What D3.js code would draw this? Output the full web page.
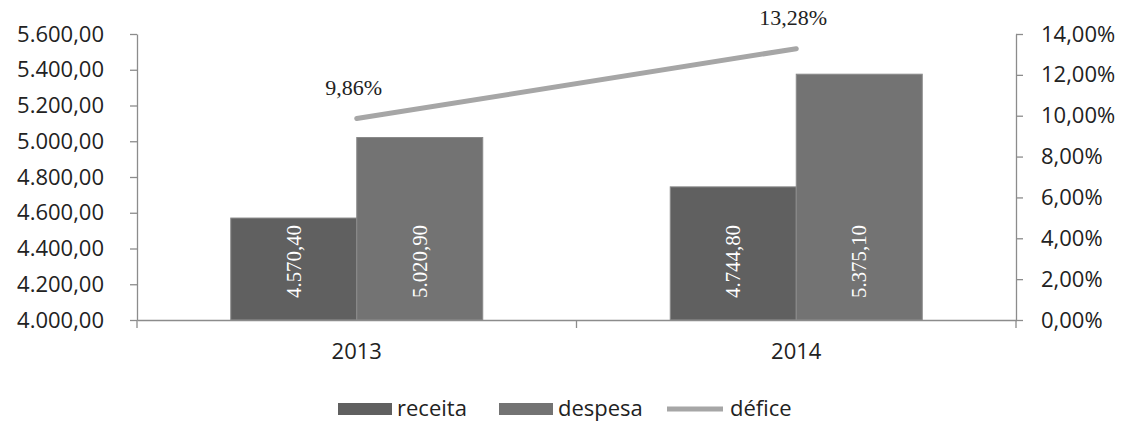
<!DOCTYPE html>
<html><head><meta charset="utf-8">
<script src="https://cdn.jsdelivr.net/npm/d3@7"></script>
<style>body{margin:0;background:#fff}svg{display:block}</style>
</head><body>
<script>
const categories = ["2013", "2014"];
const receita = [4570.40, 4744.80];
const despesa = [5020.90, 5375.10];
const defice = [9.86, 13.28];
const leftTicks = [4000, 4200, 4400, 4600, 4800, 5000, 5200, 5400, 5600];
const rightTicks = [0, 2, 4, 6, 8, 10, 12, 14];
const seriesNames = ["receita", "despesa", "défice"];

const W = 1123, H = 421;
const m = {l: 137, r: 1123 - 1016, t: 34, b: 421 - 320};
const svg = d3.select("body").append("svg").attr("width", W).attr("height", H);

const fmt2 = v => {
  const s = v.toFixed(2).split(".");
  return s[0].replace(/\B(?=(\d{3})+(?!\d))/g, ".") + "," + s[1];
};

const x0 = d3.scaleBand().domain(categories).range([m.l, W - m.r]).paddingInner(0).paddingOuter(0);
const x1 = d3.scaleBand().domain(["receita", "despesa"]).range([0, x0.bandwidth()]).paddingOuter(0.744).paddingInner(0);
const yL = d3.scaleLinear().domain([4000, 5600]).range([H - m.b, m.t]);
const yR = d3.scaleLinear().domain([0, 14]).range([H - m.b, m.t]);

const axisColor = "#8c8c8c";
const tickFont = "'Open Sans', sans-serif";
const tickSize = 22;

// left axis
const gL = svg.append("g").attr("transform", `translate(${m.l},0)`)
  .call(d3.axisLeft(yL).tickValues(leftTicks).tickFormat(fmt2).tickSize(7).tickSizeOuter(0));
gL.select(".domain").attr("stroke", axisColor).attr("stroke-width", 1.3);
gL.selectAll(".tick line").attr("stroke", axisColor).attr("stroke-width", 1.3);
gL.selectAll(".tick text").attr("font-family", tickFont).attr("font-size", tickSize).attr("fill", "#222").attr("x", -33);

// right axis
const gR = svg.append("g").attr("transform", `translate(${W - m.r},0)`)
  .call(d3.axisRight(yR).tickValues(rightTicks).tickFormat(v => fmt2(v) + "%").tickSize(7).tickSizeOuter(0));
gR.select(".domain").attr("stroke", axisColor).attr("stroke-width", 1.3);
gR.selectAll(".tick line").attr("stroke", axisColor).attr("stroke-width", 1.3);
gR.selectAll(".tick text").attr("font-family", tickFont).attr("font-size", tickSize).attr("fill", "#222").attr("x", 25);

// bars
const colors = {receita: "#606060", despesa: "#737373"};
const data = categories.map((c, i) => ({c, vals: [{k: "receita", v: receita[i]}, {k: "despesa", v: despesa[i]}]}));
const grp = svg.append("g").selectAll("g").data(data).join("g")
  .attr("transform", d => `translate(${x0(d.c)},0)`);
grp.selectAll("rect").data(d => d.vals).join("rect")
  .attr("x", d => x1(d.k)).attr("width", x1.bandwidth())
  .attr("y", d => yL(d.v)).attr("height", d => yL(4000) - yL(d.v))
  .attr("fill", d => colors[d.k]).attr("stroke", "#8a8a8a").attr("stroke-width", 1);
grp.selectAll("text").data(d => d.vals).join("text")
  .attr("transform", d => `translate(${x1(d.k) + x1.bandwidth() / 2 + 7},${yL(4000) - 22}) rotate(-90)`)
  .attr("text-anchor", "start")
  .attr("font-family", "'Liberation Serif', serif").attr("font-size", 20)
  .attr("textLength", 73).attr("lengthAdjust", "spacingAndGlyphs")
  .attr("fill", "#fff").text(d => fmt2(d.v));

// x axis
const gX = svg.append("g").attr("transform", `translate(0,${H - m.b})`)
  .call(d3.axisBottom(x0).tickSize(0).tickSizeOuter(0));
gX.select(".domain").attr("stroke", axisColor).attr("stroke-width", 1.6);
gX.selectAll(".tick text").attr("font-family", tickFont).attr("font-size", tickSize).attr("fill", "#222").attr("dy", 0).attr("y", 39);
// category boundary ticks
svg.append("g").selectAll("line").data([...categories.map(c => x0(c)), x0(categories[categories.length - 1]) + x0.bandwidth()])
  .join("line").attr("x1", d => d).attr("x2", d => d)
  .attr("y1", H - m.b).attr("y2", H - m.b + 8).attr("stroke", axisColor).attr("stroke-width", 1.3);

// line
const cx = c => x0(c) + x0.bandwidth() / 2;
svg.append("path").datum(categories.map((c, i) => [cx(c), yR(defice[i])]))
  .attr("d", d3.line()).attr("fill", "none").attr("stroke", "#a6a6a6").attr("stroke-width", 5).attr("stroke-linecap", "round");
svg.append("g").selectAll("text").data(categories).join("text")
  .attr("x", c => cx(c) - 3).attr("y", (c, i) => yR(defice[i]) - 24)
  .attr("text-anchor", "middle")
  .attr("font-family", "'Liberation Serif', serif").attr("font-size", 22).attr("fill", "#222")
  .text((c, i) => fmt2(defice[i]) + "%");

// legend
const lg = svg.append("g").attr("transform", "translate(0,409)");
const legendX = [338, 499, 667];
seriesNames.forEach((n, i) => {
  const g = lg.append("g").attr("transform", `translate(${legendX[i]},0)`);
  if (i < 2) g.append("rect").attr("x", 0).attr("y", -6).attr("width", 54).attr("height", 12).attr("fill", colors[n]);
  else g.append("line").attr("x1", 0).attr("x2", 56).attr("y1", 0).attr("y2", 0).attr("stroke", "#a6a6a6").attr("stroke-width", 5);
  g.append("text").attr("x", i < 2 ? 59 : 63).attr("y", 7).attr("font-family", tickFont).attr("font-size", tickSize).attr("fill", "#222").text(n);
});
</script>
</body></html>
